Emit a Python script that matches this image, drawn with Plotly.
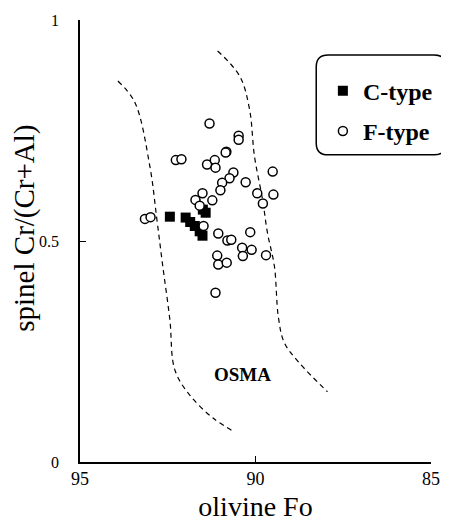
import plotly.graph_objects as go

# olivine Fo vs spinel Cr#
c_fo = [92.44, 91.99, 91.86, 91.73, 91.51, 91.50, 91.42, 91.59]
c_cr = [0.555, 0.553, 0.543, 0.534, 0.512, 0.571, 0.564, 0.522]

f_fo = [91.31, 90.48, 90.48, 90.83, 90.85, 92.27, 92.11, 91.38, 91.16, 91.14,
        89.51, 90.63, 90.74, 90.28, 90.95, 91.00, 89.95, 89.49, 89.79, 91.51,
        91.71, 91.23, 91.59, 93.15, 92.99, 91.48, 91.06, 90.80, 90.69, 90.15,
        90.38, 90.11, 90.36, 89.70, 91.09, 91.06, 90.82, 91.14]
f_cr = [0.766, 0.738, 0.729, 0.702, 0.700, 0.683, 0.685, 0.673, 0.683, 0.666,
        0.657, 0.655, 0.642, 0.633, 0.632, 0.615, 0.608, 0.605, 0.585, 0.608,
        0.593, 0.592, 0.580, 0.550, 0.554, 0.534, 0.517, 0.501, 0.503, 0.520,
        0.485, 0.480, 0.466, 0.468, 0.467, 0.447, 0.451, 0.383]

# OSMA (olivine-spinel mantle array) boundaries
osma_left_fo = [93.92, 93.44, 93.01, 92.81, 92.64, 92.44, 92.30, 91.88, 91.22, 90.60]
osma_left_cr = [0.862, 0.814, 0.669, 0.549, 0.442, 0.322, 0.209, 0.152, 0.100, 0.068]
osma_right_fo = [91.08, 90.45, 90.17, 90.03, 89.80, 89.66, 89.46, 89.35, 89.18, 88.75, 87.95]
osma_right_cr = [0.930, 0.873, 0.798, 0.692, 0.594, 0.519, 0.442, 0.329, 0.270, 0.224, 0.159]

x_ticks = [95, 90, 85]
y_ticks = [0, 0.5, 1]
y_tick_text = ["0", "0.5", "1"]

SERIF = "Liberation Serif, Times New Roman, serif"

fig = go.Figure()
for xs, ys in ((osma_left_fo, osma_left_cr), (osma_right_fo, osma_right_cr)):
    fig.add_trace(go.Scatter(x=xs, y=ys, mode="lines", showlegend=False, hoverinfo="skip",
                             line={"color": "black", "width": 1.2, "dash": "5px,4px", "shape": "spline"}))

fig.add_trace(go.Scatter(x=c_fo, y=c_cr, mode="markers", name="C-type", legendgroup="c",
                         marker={"symbol": "square", "size": 10, "color": "black"}))
fig.add_trace(go.Scatter(x=f_fo, y=f_cr, mode="markers", name="F-type", legendgroup="f",
                         marker={"symbol": "circle", "size": 9, "color": "white",
                                 "line": {"color": "black", "width": 1.5}}))

# rounded legend frame (paper coords)
x0, x1, y0, y1 = 0.673, 1.043, 0.695, 0.921
rx, ry = 0.034, 0.027
frame = (f"M {x0+rx},{y1} L {x1-rx},{y1} Q {x1},{y1} {x1},{y1-ry} L {x1},{y0+ry} "
         f"Q {x1},{y0} {x1-rx},{y0} L {x0+rx},{y0} Q {x0},{y0} {x0},{y0+ry} "
         f"L {x0},{y1-ry} Q {x0},{y1} {x0+rx},{y1} Z")
fig.add_shape(type="path", path=frame, xref="paper", yref="paper",
              line={"color": "black", "width": 1.5}, fillcolor="white", layer="below")

fig.add_annotation(x=90.37, y=0.197, text="<b>OSMA</b>", showarrow=False,
                   font={"family": SERIF, "size": 19, "color": "black"})

# y title sits a little above the axis centre in the original
fig.add_annotation(x=-0.158, y=0.529, xref="paper", yref="paper", text="spinel Cr/(Cr+Al)",
                   xanchor="center", yanchor="middle", textangle=-90, showarrow=False,
                   font={"family": SERIF, "size": 29, "color": "black"})

# page body has an 8px margin, so the figure is 8px smaller than the window
fig.update_layout(
    width=441, height=518,
    margin={"l": 72, "r": 17, "t": 12, "b": 64},
    paper_bgcolor="white", plot_bgcolor="white",
    font={"family": SERIF, "color": "black"},
    legend={"x": 0.69, "y": 0.89, "xanchor": "left", "yanchor": "top",
            "bgcolor": "rgba(0,0,0,0)", "borderwidth": 0,
            "font": {"family": SERIF, "size": 24, "color": "black", "weight": "bold"},
            "tracegroupgap": 6, "traceorder": "grouped"},
    xaxis={"range": [95, 85], "tickvals": x_ticks, "ticks": "inside", "ticklen": 6,
           "showline": True, "linecolor": "black", "linewidth": 1.5, "tickcolor": "black",
           "showgrid": False, "zeroline": False, "tickfont": {"size": 18}, "automargin": False,
           "title": {"text": "olivine Fo", "font": {"size": 28}, "standoff": 8}},
    yaxis={"range": [0, 1], "tickvals": y_ticks, "ticktext": y_tick_text, "ticks": "inside",
           "ticklen": 6, "showline": True, "linecolor": "black", "linewidth": 1.5,
           "tickcolor": "black", "showgrid": False, "zeroline": False, "automargin": False,
           "tickfont": {"size": 16}, "ticklabelstandoff": 16},
)

fig.write_html("out.html")
